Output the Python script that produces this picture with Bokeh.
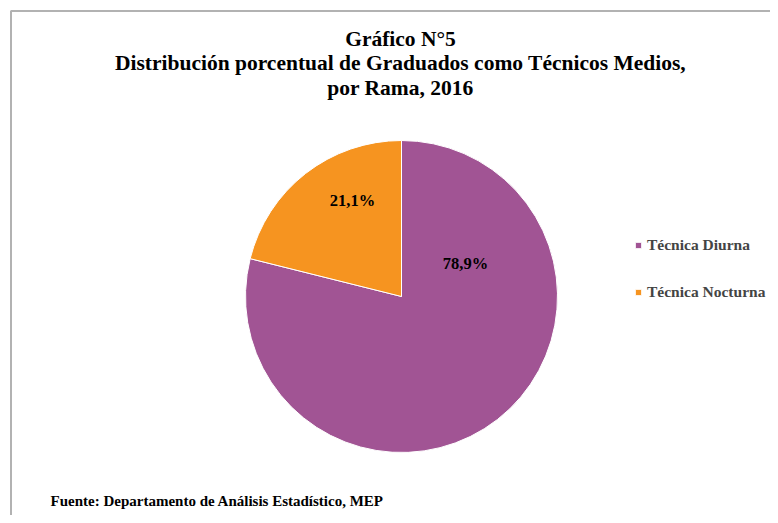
import math
from bokeh.plotting import figure
from bokeh.models import Range1d, Label, BoxAnnotation, Legend, LegendItem
from bokeh.embed import file_html
from bokeh.resources import INLINE

# Data
categories = ["Técnica Diurna", "Técnica Nocturna"]
values = [78.9, 21.1]
value_labels = ["78,9%", "21,1%"]
colors = ["#A15494", "#F69420"]
title_lines = ["Gráfico N°5",
               "Distribución porcentual de Graduados como Técnicos Medios,",
               "por Rama, 2016"]
source_text = "Fuente: Departamento de Análisis Estadístico, MEP"

W, H = 770, 515
FONT = "Liberation Serif"

p = figure(width=W, height=H, output_backend="svg", toolbar_location=None,
           x_range=Range1d(0, W), y_range=Range1d(0, H),
           min_border=0, min_border_left=0, min_border_right=0,
           min_border_top=0, min_border_bottom=0)
p.axis.visible = False
p.grid.visible = False
p.outline_line_color = None
p.background_fill_color = "white"
p.border_fill_color = "white"

# chart frame (only top and left edges fall inside the canvas)
p.add_layout(BoxAnnotation(left=10.5, top=H - 10.5, right=W + 30, bottom=-30,
                           fill_alpha=0, line_color="black", line_width=2))

# pie geometry (data units == pixels)
cx, cy, r = 401, 219, 156
total = sum(values)
# first slice runs clockwise from 12 o'clock; second fills the rest
split = math.pi / 2 + values[1] / total * 2 * math.pi
starts = [split, math.pi / 2]
ends = [math.pi / 2 + 2 * math.pi, split]

renderers = []
for i in range(len(categories)):
    rr = p.wedge(x=cx, y=cy, radius=r, start_angle=starts[i], end_angle=ends[i],
                 fill_color=colors[i], line_color="white", line_width=1)
    renderers.append(rr)

# value labels (offsets from pie centre, px)
label_offsets = [(64, 33), (-49, 96)]
for i in range(len(categories)):
    dx, dy = label_offsets[i]
    p.add_layout(Label(x=cx + dx, y=cy + dy, text=value_labels[i], text_font=FONT,
                       text_font_style="bold", text_font_size="16.5px",
                       text_align="center", text_baseline="middle",
                       text_color="black"))

# title
ty = [477, 453, 428]
for t, yy in zip(title_lines, ty):
    p.add_layout(Label(x=400, y=yy, text=t, text_font=FONT, text_font_style="bold",
                       text_font_size="21.5px", text_align="center",
                       text_baseline="middle", text_color="black"))

# source
p.add_layout(Label(x=50, y=15, text=source_text, text_font=FONT, text_font_style="bold",
                   text_font_size="15px", text_align="left", text_baseline="middle",
                   text_color="black"))

# legend
items = [LegendItem(label=categories[i], renderers=[renderers[i]]) for i in range(len(categories))]
legend = Legend(items=items, location=(634, 214), orientation="vertical",
                label_text_font=FONT, label_text_font_style="bold",
                label_text_font_size="15.5px", glyph_width=8, glyph_height=8,
                label_standoff=5, spacing=29, padding=0, margin=0,
                border_line_color=None, background_fill_alpha=0)
p.add_layout(legend)

open("out.html", "w").write(file_html(p, INLINE))
